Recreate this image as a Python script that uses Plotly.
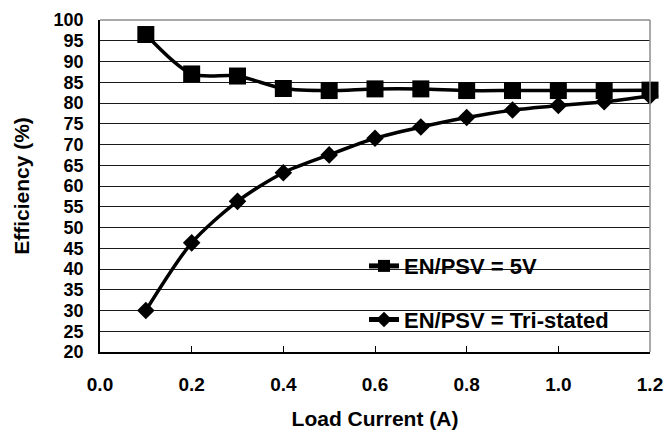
import plotly.graph_objects as go

# Load current (A) and measured efficiency (%) for the two EN/PSV settings
load_current = [0.1, 0.2, 0.3, 0.4, 0.5, 0.6, 0.7, 0.8, 0.9, 1.0, 1.1, 1.2]
eff_5v = [96.5, 87.0, 86.5, 83.5, 83.0, 83.4, 83.4, 83.0, 83.0, 83.0, 83.0, 83.1]
eff_tristated = [30.0, 46.3, 56.3, 63.2, 67.5, 71.5, 74.2, 76.5, 78.3, 79.4, 80.3, 81.7]

series_names = ["EN/PSV = 5V", "EN/PSV = Tri-stated"]

x_ticks = [0.0, 0.2, 0.4, 0.6, 0.8, 1.0, 1.2]
y_ticks = list(range(20, 101, 5))

FONT = "Liberation Sans, Arial, Helvetica, sans-serif"

fig = go.Figure()

fig.add_trace(go.Scatter(
    x=load_current, y=eff_5v, name=series_names[0],
    mode="lines+markers", cliponaxis=False,
    line=dict(color="black", width=3.5, shape="spline", smoothing=0.8),
    marker=dict(symbol="square", size=17, color="black"),
    legendgroup="a",
))
fig.add_trace(go.Scatter(
    x=load_current, y=eff_tristated, name=series_names[1],
    mode="lines+markers", cliponaxis=False,
    line=dict(color="black", width=3.5, shape="spline", smoothing=0.8),
    marker=dict(symbol="diamond", size=13.5, color="black"),
    legendgroup="b",
))

# white panel behind the legend, hiding the gridlines there
fig.add_shape(type="rect", xref="paper", yref="paper",
              x0=0.409, x1=0.993, y0=0.006, y1=0.364,
              fillcolor="white", line=dict(width=0), layer="between")
# grey frame on top and right
fig.add_shape(type="line", xref="paper", yref="paper", x0=0, x1=1, y0=1, y1=1,
              line=dict(color="#8c8c8c", width=1.5), layer="above")
fig.add_shape(type="line", xref="paper", yref="paper", x0=1, x1=1, y0=0, y1=1,
              line=dict(color="#8c8c8c", width=1.5), layer="above")

fig.update_layout(
    width=666, height=430,
    margin=dict(l=100, r=16, t=20, b=78),
    paper_bgcolor="white", plot_bgcolor="white",
    font=dict(family=FONT, color="black"),
    showlegend=True,
    legend=dict(
        x=0.48, y=0.322, xanchor="left", yanchor="top",
        bgcolor="rgba(0,0,0,0)", borderwidth=0,
        itemsizing="constant",
        font=dict(family=FONT, size=22, color="black", weight="bold"),
        traceorder="grouped", tracegroupgap=22,
    ),
)

fig.update_xaxes(
    range=[0, 1.2], tickvals=x_ticks, ticktext=[f"{v:.1f}" for v in x_ticks],
    ticks="inside", ticklen=6, tickwidth=1, tickcolor="black",
    showline=True, linecolor="black", linewidth=2,
    showgrid=False, zeroline=False, automargin=False,
    tickfont=dict(family=FONT, size=19, color="black", weight="bold"),
    ticklabelstandoff=14,
    title=dict(text="Load Current (A)", standoff=20,
               font=dict(family=FONT, size=21, color="black", weight="bold")),
)
fig.update_yaxes(
    range=[20, 100], tickvals=y_ticks,
    ticks="", showline=True, linecolor="black", linewidth=1.5,
    showgrid=True, gridcolor="#1a1a1a", gridwidth=1, zeroline=False,
    automargin=False,
    tickfont=dict(family=FONT, size=18, color="black", weight="bold"),
    ticklabelstandoff=11,
    title=dict(text="Efficiency (%)", standoff=18,
               font=dict(family=FONT, size=21, color="black", weight="bold")),
)

fig.write_html("out.html")
